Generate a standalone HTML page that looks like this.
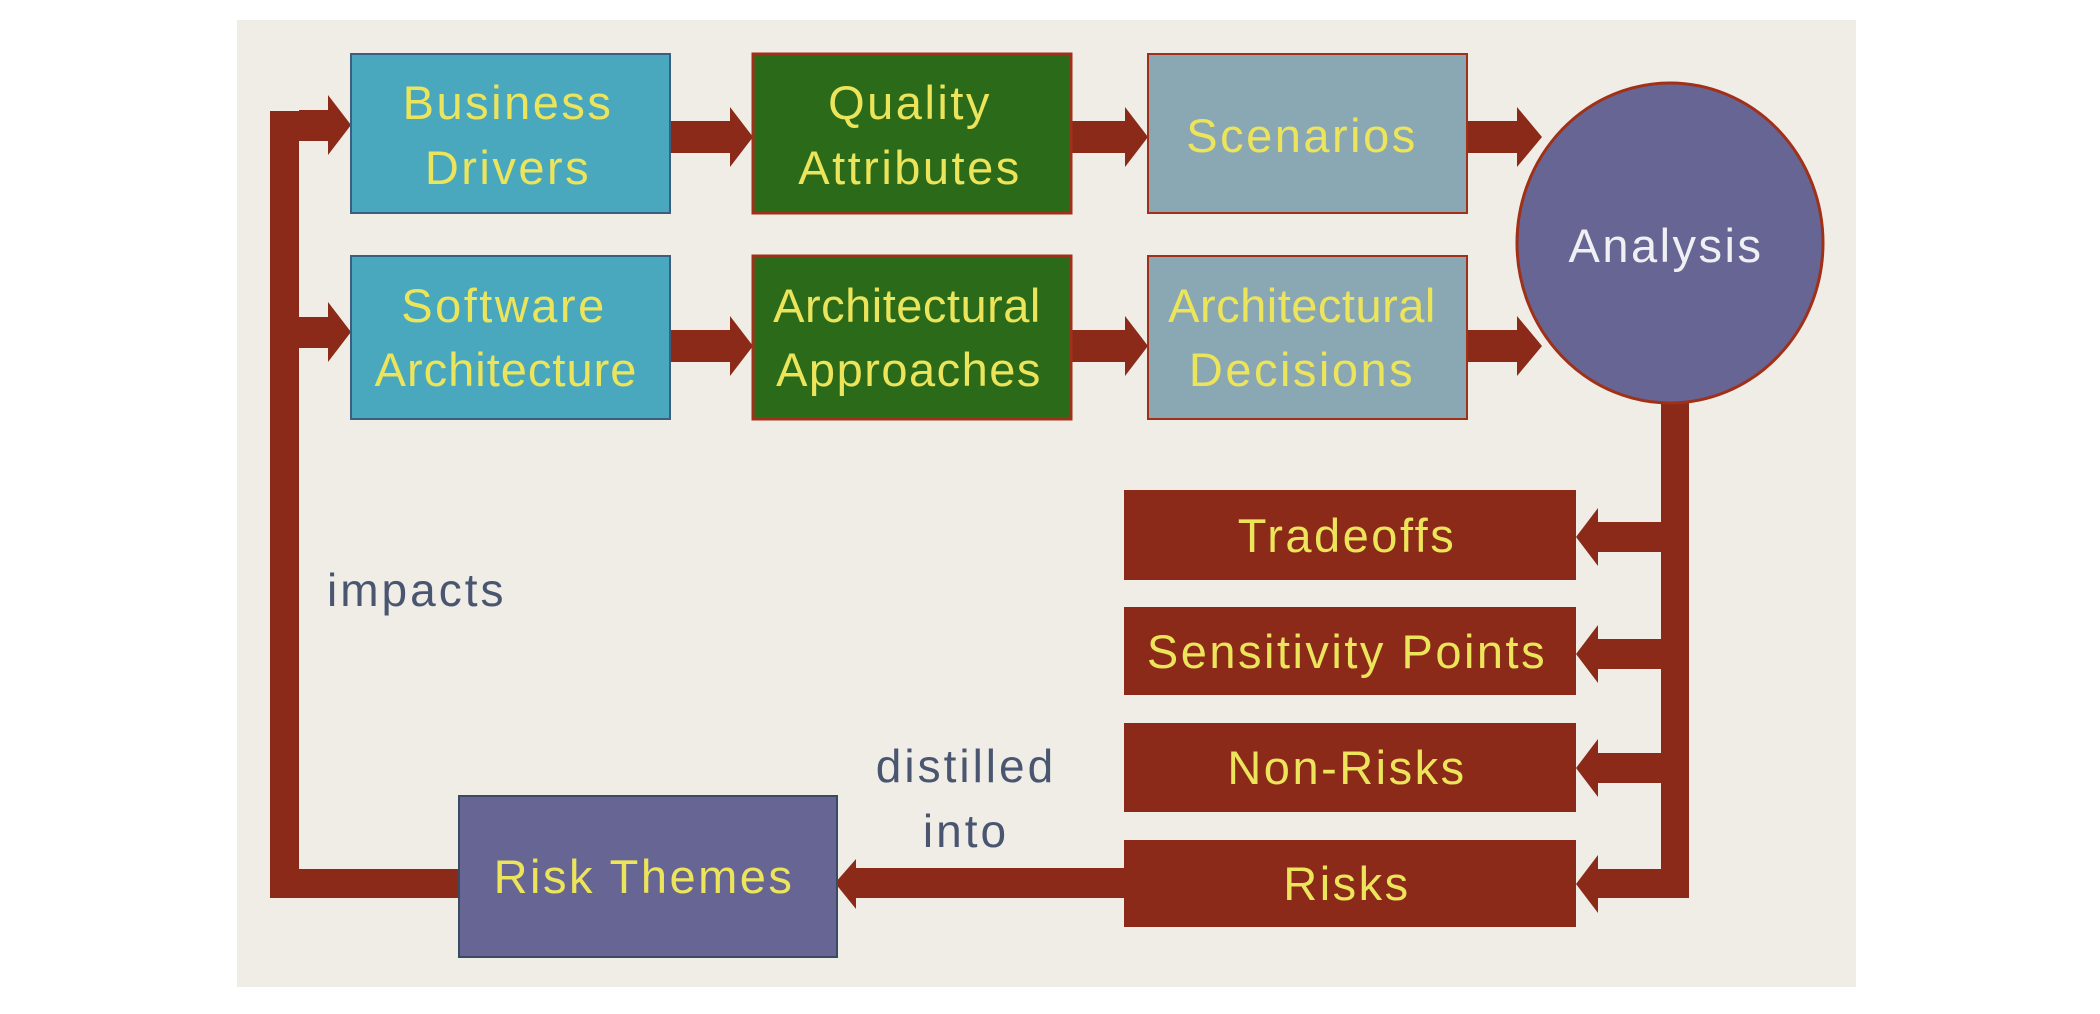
<!DOCTYPE html>
<html><head><meta charset="utf-8"><style>
html,body{margin:0;padding:0;background:#fff;}
svg{display:block}
text{font-family:"Liberation Sans",sans-serif;}
</style></head><body>
<svg width="2100" height="1014" viewBox="0 0 2100 1014" xmlns="http://www.w3.org/2000/svg">
<rect x="0" y="0" width="2100" height="1014" fill="#ffffff"/>
<rect x="237" y="20" width="1619" height="967" fill="#efede6"/>
<g fill="#8b2a18">
  <rect x="270" y="111" width="29" height="787"/>
  <rect x="270" y="869" width="190" height="29"/>
  <rect x="299" y="110" width="30" height="31"/>
  <polygon points="328,95 351,125 328,155"/>
  <rect x="299" y="317" width="30" height="31"/>
  <polygon points="328,302 351,332 328,362"/>
  <rect x="670" y="121" width="62" height="32"/>
  <polygon points="730,107 753,137 730,167"/>
  <rect x="1071" y="121" width="56" height="32"/>
  <polygon points="1125,107 1148,137 1125,167"/>
  <rect x="1467" y="121" width="52" height="32"/>
  <polygon points="1517,107 1542,137 1517,167"/>
  <rect x="670" y="330" width="62" height="32"/>
  <polygon points="730,316 753,346 730,376"/>
  <rect x="1071" y="330" width="56" height="32"/>
  <polygon points="1125,316 1148,346 1125,376"/>
  <rect x="1467" y="330" width="52" height="32"/>
  <polygon points="1517,316 1542,346 1517,376"/>
  <rect x="1661" y="395" width="28" height="503"/>
  <rect x="1596" y="522" width="66" height="30"/>
  <polygon points="1598,508 1576,537 1598,566"/>
  <rect x="1596" y="639" width="66" height="30"/>
  <polygon points="1598,625 1576,654 1598,683"/>
  <rect x="1596" y="753" width="66" height="30"/>
  <polygon points="1598,739 1576,768 1598,797"/>
  <rect x="1596" y="869" width="66" height="29"/>
  <polygon points="1598,855 1576,884 1598,913"/>
  <rect x="854" y="868" width="272" height="30"/>
  <polygon points="856,859 835,883 856,909"/>
</g>
<rect x="351" y="54" width="319" height="159" fill="#4aa8be" stroke="#3a5f80" stroke-width="2"/>
<rect x="753" y="54" width="318" height="159" fill="#2a6a18" stroke="#a03018" stroke-width="3"/>
<rect x="1148" y="54" width="319" height="159" fill="#8aa8b4" stroke="#a03018" stroke-width="2"/>
<rect x="351" y="256" width="319" height="163" fill="#4aa8be" stroke="#3a5f80" stroke-width="2"/>
<rect x="753" y="256" width="318" height="163" fill="#2a6a18" stroke="#a03018" stroke-width="3"/>
<rect x="1148" y="256" width="319" height="163" fill="#8aa8b4" stroke="#a03018" stroke-width="2"/>
<ellipse cx="1670" cy="243" rx="153" ry="160" fill="#666594" stroke="#a03018" stroke-width="3"/>
<g fill="#8b2a18">
  <rect x="1124" y="490" width="452" height="90"/>
  <rect x="1124" y="607" width="452" height="88"/>
  <rect x="1124" y="723" width="452" height="89"/>
  <rect x="1124" y="840" width="452" height="87"/>
</g>
<rect x="459" y="796" width="378" height="161" fill="#666594" stroke="#3a4a60" stroke-width="2"/>
<g fill="#ece45a" font-size="47" text-anchor="middle" letter-spacing="2.5">
  <text x="508" y="119">Business</text>
  <text x="508" y="184">Drivers</text>
  <text x="910" y="119">Quality</text>
  <text x="910" y="184">Attributes</text>
  <text x="1302" y="152">Scenarios</text>
  <text x="504" y="322">Software</text>
  <text x="506" y="386" letter-spacing="1">Architecture</text>
  <text x="907" y="322" letter-spacing="0.5">Architectural</text>
  <text x="909" y="386" letter-spacing="1.5">Approaches</text>
  <text x="1302" y="322" letter-spacing="0.5">Architectural</text>
  <text x="1302" y="386">Decisions</text>
  <text x="1347" y="552">Tradeoffs</text>
  <text x="1347" y="668">Sensitivity Points</text>
  <text x="1347" y="784">Non-Risks</text>
  <text x="1347" y="900">Risks</text>
  <text x="644" y="893">Risk Themes</text>
</g>
<text x="1666" y="262" fill="#f0f0f4" font-size="47" text-anchor="middle" letter-spacing="2.5">Analysis</text>
<g fill="#4a5570" font-size="46" letter-spacing="3">
  <text x="327" y="606">impacts</text>
  <text x="966" y="782" text-anchor="middle">distilled</text>
  <text x="966" y="847" text-anchor="middle">into</text>
</g>
</svg>
</body></html>
